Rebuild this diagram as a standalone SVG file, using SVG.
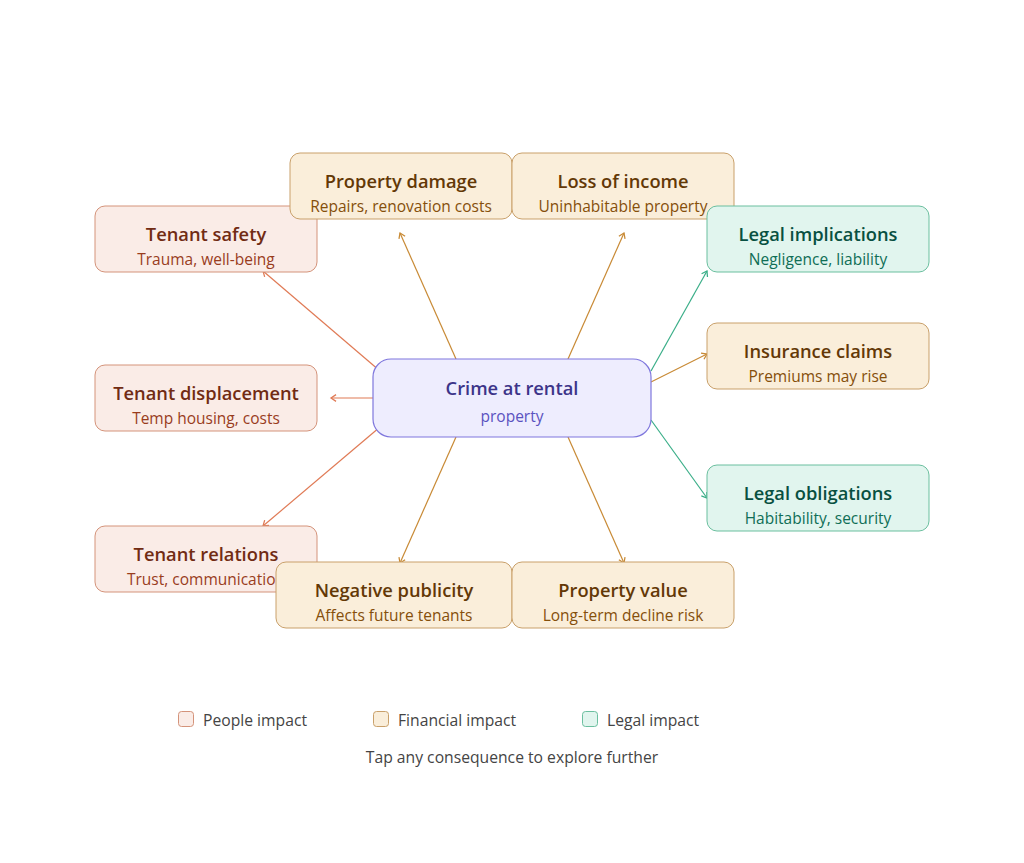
<svg xmlns="http://www.w3.org/2000/svg" width="1024" height="863" viewBox="0 0 1024 863">
<defs>
<style>
text{font-family:"Open Sans","Noto Sans","Liberation Sans",sans-serif;text-anchor:middle}
.t{font-size:18.3px;font-weight:600}
.s{font-size:15.5px}
.pp rect{fill:#FAECE7;stroke:#D4937A;stroke-width:1}
.pp .t{fill:#712B13}.pp .s{fill:#993C1D}
.fn rect{fill:#FAEEDA;stroke:#C9A06A;stroke-width:1}
.fn .t{fill:#633806}.fn .s{fill:#854F0B}
.lg rect{fill:#E1F5EE;stroke:#6BBF9F;stroke-width:1}
.lg .t{fill:#085041}.lg .s{fill:#0F6E56}
.cp{stroke:#E07A55}.cf{stroke:#C88A35}.cl{stroke:#3AAE88}
#edges line{stroke-width:1.2;fill:none}
.leg{font-size:15.7px;fill:#444;text-anchor:start}
</style>
<marker id="ap" viewBox="0 0 10 10" refX="8" refY="5" markerWidth="7" markerHeight="7" orient="auto-start-reverse"><path d="M2 1L8 5L2 9" fill="none" stroke="#E07A55" stroke-width="1.5"/></marker>
<marker id="af" viewBox="0 0 10 10" refX="8" refY="5" markerWidth="7" markerHeight="7" orient="auto-start-reverse"><path d="M2 1L8 5L2 9" fill="none" stroke="#C88A35" stroke-width="1.5"/></marker>
<marker id="al" viewBox="0 0 10 10" refX="8" refY="5" markerWidth="7" markerHeight="7" orient="auto-start-reverse"><path d="M2 1L8 5L2 9" fill="none" stroke="#3AAE88" stroke-width="1.5"/></marker>
</defs>
<rect width="1024" height="863" fill="#fff"/>
<g id="edges">
<line class="cp" x1="380" y1="371" x2="263" y2="271" marker-end="url(#ap)"/>
<line class="cp" x1="373" y1="398" x2="331" y2="398" marker-end="url(#ap)"/>
<line class="cp" x1="380" y1="427" x2="263" y2="526" marker-end="url(#ap)"/>
<line class="cf" x1="456" y1="359" x2="400" y2="233" marker-end="url(#af)"/>
<line class="cf" x1="568" y1="359" x2="624" y2="233" marker-end="url(#af)"/>
<line class="cf" x1="456" y1="437" x2="400" y2="563" marker-end="url(#af)"/>
<line class="cf" x1="568" y1="437" x2="624" y2="563" marker-end="url(#af)"/>
<line class="cl" x1="651" y1="371" x2="707" y2="271" marker-end="url(#al)"/>
<line class="cf" x1="651" y1="382" x2="707" y2="354" marker-end="url(#af)"/>
<line class="cl" x1="651" y1="420" x2="707" y2="498" marker-end="url(#al)"/>
</g>
<g id="center">
<rect x="373" y="359" width="278" height="78" rx="18" fill="#EEEDFE" stroke="#7F77DD" stroke-width="1.2"/>
<text x="512" y="395" class="t" fill="#3C3489">Crime at rental</text>
<text x="512" y="422" class="s" fill="#5A52C0">property</text>
</g>
<g id="tenant-safety" class="pp">
<rect x="95" y="206" width="222" height="66" rx="10"/>
<text x="206" y="241" class="t">Tenant safety</text>
<text x="206" y="265" class="s">Trauma, well-being</text>
</g>
<g id="property-damage" class="fn">
<rect x="290" y="153" width="222" height="66" rx="10"/>
<text x="401" y="188" class="t">Property damage</text>
<text x="401" y="212" class="s">Repairs, renovation costs</text>
</g>
<g id="loss-of-income" class="fn">
<rect x="512" y="153" width="222" height="66" rx="10"/>
<text x="623" y="188" class="t">Loss of income</text>
<text x="623" y="212" class="s">Uninhabitable property</text>
</g>
<g id="legal-implications" class="lg">
<rect x="707" y="206" width="222" height="66" rx="10"/>
<text x="818" y="241" class="t">Legal implications</text>
<text x="818" y="265" class="s">Negligence, liability</text>
</g>
<g id="tenant-displacement" class="pp">
<rect x="95" y="365" width="222" height="66" rx="10"/>
<text x="206" y="400" class="t">Tenant displacement</text>
<text x="206" y="424" class="s">Temp housing, costs</text>
</g>
<g id="insurance-claims" class="fn">
<rect x="707" y="323" width="222" height="66" rx="10"/>
<text x="818" y="358" class="t">Insurance claims</text>
<text x="818" y="382" class="s">Premiums may rise</text>
</g>
<g id="legal-obligations" class="lg">
<rect x="707" y="465" width="222" height="66" rx="10"/>
<text x="818" y="500" class="t">Legal obligations</text>
<text x="818" y="524" class="s">Habitability, security</text>
</g>
<g id="tenant-relations" class="pp">
<rect x="95" y="526" width="222" height="66" rx="10"/>
<text x="206" y="561" class="t">Tenant relations</text>
<text x="206" y="585" class="s">Trust, communication</text>
</g>
<g id="negative-publicity" class="fn">
<rect x="276" y="562" width="236" height="66" rx="10"/>
<text x="394" y="597" class="t">Negative publicity</text>
<text x="394" y="621" class="s">Affects future tenants</text>
</g>
<g id="property-value" class="fn">
<rect x="512" y="562" width="222" height="66" rx="10"/>
<text x="623" y="597" class="t">Property value</text>
<text x="623" y="621" class="s">Long-term decline risk</text>
</g>
<g id="legend">
<rect x="178.5" y="711.5" width="15" height="15" rx="3" fill="#FAECE7" stroke="#D4937A"/>
<text x="203" y="726" class="leg">People impact</text>
<rect x="373.5" y="711.5" width="15" height="15" rx="3" fill="#FAEEDA" stroke="#C9A06A"/>
<text x="398" y="726" class="leg">Financial impact</text>
<rect x="582.5" y="711.5" width="15" height="15" rx="3" fill="#E1F5EE" stroke="#6BBF9F"/>
<text x="607" y="726" class="leg">Legal impact</text>
<text x="512" y="763" class="leg" style="text-anchor:middle">Tap any consequence to explore further</text>
</g>
</svg>
